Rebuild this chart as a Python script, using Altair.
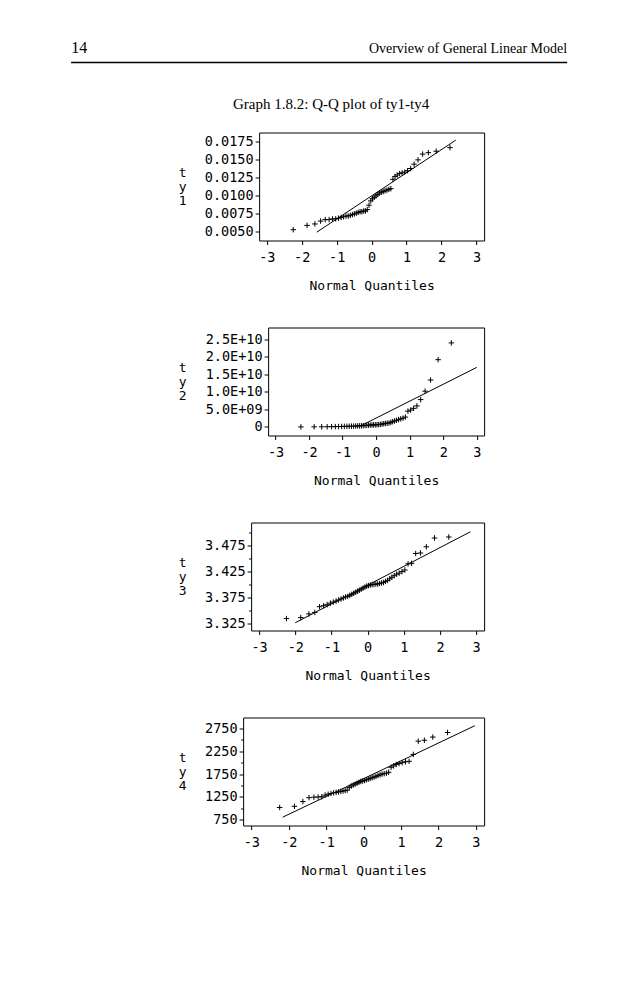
import altair as alt
import pandas as pd

# ---------------- text ----------------
page_number = "14"
running_head = "Overview of General Linear Model"
graph_title = "Graph 1.8.2: Q-Q plot of ty1-ty4"
x_title = "Normal Quantiles"
y_titles = [["t", "y", "1"], ["t", "y", "2"], ["t", "y", "3"], ["t", "y", "4"]]

# ---------------- data ----------------
normal_quantiles = [
    -2.243, -1.848, -1.623, -1.460, -1.328, -1.216, -1.118, -1.029, -0.948, -0.872,
    -0.802, -0.734, -0.670, -0.609, -0.550, -0.493, -0.438, -0.384, -0.330, -0.278,
    -0.227, -0.176, -0.125, -0.075, -0.025, 0.025, 0.075, 0.125, 0.176, 0.227,
    0.278, 0.330, 0.384, 0.438, 0.493, 0.550, 0.609, 0.670, 0.734, 0.802,
    0.872, 0.948, 1.029, 1.118, 1.216, 1.328, 1.460, 1.623, 1.848, 2.243,
]

ty1 = [
    0.0052, 0.0058, 0.0060, 0.0064, 0.0066, 0.0066, 0.0067, 0.0067, 0.0068, 0.0069,
    0.0070, 0.0071, 0.0071, 0.0072, 0.0073, 0.0074, 0.0075, 0.0076, 0.0077, 0.0077,
    0.0078, 0.0078, 0.0080, 0.0086, 0.0092, 0.0095, 0.0097, 0.0099, 0.0101, 0.0103,
    0.0104, 0.0105, 0.0106, 0.0107, 0.0108, 0.0109, 0.0122, 0.0126, 0.0128, 0.0130,
    0.0131, 0.0132, 0.0134, 0.0137, 0.0143, 0.0149, 0.0157, 0.0159, 0.0161, 0.0166,
]

ty2 = [
    0.0, 0.02e9, 0.03e9, 0.05e9, 0.06e9, 0.08e9, 0.10e9, 0.12e9, 0.14e9, 0.16e9,
    0.18e9, 0.20e9, 0.22e9, 0.25e9, 0.28e9, 0.30e9, 0.33e9, 0.36e9, 0.40e9, 0.45e9,
    0.50e9, 0.52e9, 0.55e9, 0.58e9, 0.60e9, 0.62e9, 0.65e9, 0.70e9, 0.80e9, 0.90e9,
    1.0e9, 1.05e9, 1.1e9, 1.3e9, 1.5e9, 1.7e9, 1.9e9, 2.1e9, 2.3e9, 2.5e9,
    2.8e9, 4.5e9, 4.8e9, 5.3e9, 6.0e9, 7.8e9, 10.2e9, 13.4e9, 19.2e9, 24.0e9,
]

ty3 = [
    3.334, 3.336, 3.343, 3.346, 3.357, 3.359, 3.361, 3.364, 3.366, 3.368,
    3.370, 3.372, 3.374, 3.376, 3.377, 3.379, 3.381, 3.383, 3.385, 3.387,
    3.389, 3.391, 3.393, 3.395, 3.397, 3.398, 3.399, 3.400, 3.400, 3.401,
    3.401, 3.402, 3.403, 3.404, 3.406, 3.408, 3.411, 3.414, 3.417, 3.420,
    3.422, 3.425, 3.428, 3.440, 3.441, 3.460, 3.461, 3.473, 3.490, 3.492,
]

ty4 = [
    1020, 1045, 1150, 1235, 1245, 1250, 1255, 1290, 1310, 1325,
    1340, 1350, 1360, 1370, 1380, 1390, 1400, 1460, 1490, 1510,
    1530, 1550, 1570, 1590, 1600, 1610, 1625, 1640, 1655, 1670,
    1685, 1700, 1720, 1735, 1750, 1760, 1770, 1790, 1900, 1930,
    1960, 1980, 2000, 2020, 2030, 2180, 2470, 2490, 2560, 2660,
]

# reference lines (end points)
ty1_line_q = [-1.57, 2.41]
ty1_line_v = [0.00486, 0.01764]
ty2_line_q = [-0.45, 3.0]
ty2_line_v = [0.35e9, 17.0e9]
ty3_line_q = [-2.0, 2.84]
ty3_line_v = [3.326, 3.502]
ty4_line_q = [-2.16, 2.97]
ty4_line_v = [809, 2808]

# axis ticks
x_ticks = [-3, -2, -1, 0, 1, 2, 3]
ty1_ticks = [0.005, 0.0075, 0.01, 0.0125, 0.015, 0.0175]
ty2_ticks = [0, 5e9, 1e10, 1.5e10, 2e10, 2.5e10]
ty2_tick_labels = ["0", "5.0E+09", "1.0E+10", "1.5E+10", "2.0E+10", "2.5E+10"]
ty3_major = [3.325, 3.375, 3.425, 3.475]
ty3_minor = [3.35, 3.40, 3.45, 3.50]
ty4_major = [750, 1250, 1750, 2250, 2750]
ty4_minor = [1000, 1500, 2000, 2500]

MONO = "DejaVu Sans Mono"
SERIF = "Liberation Serif"
PLUS = "M-1,0L1,0M0,-1L0,1"
H = 108
TITLE_LH = 14

# layout: page x of each frame's left edge (right edges all at 483)
FRAME_RIGHT = 483
HEAD_LEFT = 70            # page x of the running head's left end
HEAD_SHIFT = 150          # running head starts this far left of the header origin
HEAD_W = 346              # header group width (text block ends at its right edge)
TITLE_CX = 330            # page x of the graph title centre
Y_TITLE_X = 181           # page x of the stacked y titles


def js_list(vals):
    return "[" + ",".join(repr(v) for v in vals) + "]"


def panel(values, line_q, line_v, frame_left, y_domain, y_axis_kwargs, title, chart_title=None):
    width = FRAME_RIGHT - frame_left
    # vconcat centring moves a view by half the gap of its right extent,
    # so an invisible rule sets that extent to place the frame.
    extent = HEAD_W + 0.75 - 2 * (frame_left - (HEAD_LEFT + HEAD_SHIFT)) - 0.5
    pts = pd.DataFrame({"q": normal_quantiles, "v": values})
    ln = pd.DataFrame({"q": line_q, "v": line_v})
    x = alt.X(
        "q:Q",
        scale=alt.Scale(domain=[-3.22, 3.22], nice=False, zero=False),
        axis=alt.Axis(
            values=x_ticks,
            labelExpr="datum.value < 0 ? '-' + abs(datum.value) : '' + datum.value",
            title=x_title,
            titleX=width / 2,
            titleY=45,
            titleBaseline="middle",
            titleAlign="center",
            labelPadding=6,
            tickSize=4,
        ),
    )
    y = alt.Y(
        "v:Q",
        scale=alt.Scale(domain=y_domain, nice=False, zero=False),
        axis=alt.Axis(
            title=title,
            titleAngle=0,
            titleX=Y_TITLE_X - frame_left,
            titleY=H / 2 - TITLE_LH,
            titleAlign="center",
            titleBaseline="middle",
            titleLineHeight=TITLE_LH,
            labelPadding=2,
            **y_axis_kwargs,
        ),
    )
    line = alt.Chart(ln).mark_line(color="black", strokeWidth=1).encode(x=x, y=y)
    points = alt.Chart(pts).mark_point(
        shape=PLUS, size=30, filled=False, color="black", strokeWidth=1, opacity=1
    ).encode(x=x, y=y)
    spacer = alt.Chart(pd.DataFrame({"k": [0]})).mark_rule(
        color="white", strokeOpacity=0, strokeWidth=1
    ).encode(x=alt.value(width), x2=alt.value(extent), y=alt.value(0))
    props = dict(width=width, height=H)
    if chart_title is not None:
        props["title"] = alt.TitleParams(
            chart_title,
            font=SERIF,
            fontSize=15,
            fontWeight="normal",
            color="black",
            anchor="middle",
            frame="group",
            dx=TITLE_CX - (frame_left + width / 2),
            offset=20.5,
        )
    return alt.layer(line, points, spacer).properties(**props)


p1 = panel(
    ty1, ty1_line_q, ty1_line_v, 258, [0.0037, 0.0187],
    dict(values=ty1_ticks, format=".4f", tickSize=4),
    y_titles[0], chart_title=graph_title,
)
p2 = panel(
    ty2, ty2_line_q, ty2_line_v, 267, [-2.46e9, 2.84e10],
    dict(
        values=ty2_ticks,
        labelExpr=js_list(ty2_tick_labels).replace('"', "'") + "[indexof(" + js_list(ty2_ticks) + ", datum.value)]",
        tickSize=4,
    ),
    y_titles[1],
)
p3 = panel(
    ty3, ty3_line_q, ty3_line_v, 250, [3.311, 3.520],
    dict(
        values=ty3_major + ty3_minor,
        format=".3f",
        labelExpr="indexof(" + js_list(ty3_major) + ", datum.value) >= 0 ? datum.label : ''",
        tickSize={"condition": {"test": "indexof(" + js_list(ty3_major) + ", datum.value) >= 0", "value": 4}, "value": 2.5},
    ),
    y_titles[2],
)
p4 = panel(
    ty4, ty4_line_q, ty4_line_v, 242, [626, 2988],
    dict(
        values=ty4_major + ty4_minor,
        format="d",
        labelExpr="indexof(" + js_list(ty4_major) + ", datum.value) >= 0 ? datum.label : ''",
        tickSize={"condition": {"test": "indexof(" + js_list(ty4_major) + ", datum.value) >= 0", "value": 4}, "value": 2.5},
    ),
    y_titles[3],
)

# ---------------- page header ----------------
hdr = alt.Chart(pd.DataFrame({"k": [0]}))
num = hdr.mark_text(align="left", baseline="alphabetic", font=SERIF, fontSize=16, color="black").encode(
    x=alt.value(-HEAD_SHIFT), y=alt.value(16), text=alt.value(page_number)
)
head = hdr.mark_text(align="right", baseline="alphabetic", font=SERIF, fontSize=14, color="black").encode(
    x=alt.value(HEAD_W), y=alt.value(16), text=alt.value(running_head)
)
rule = hdr.mark_rule(color="black", strokeWidth=1.5).encode(
    x=alt.value(-HEAD_SHIFT), x2=alt.value(HEAD_W), y=alt.value(26)
)
header = alt.layer(num, head, rule).properties(
    width=HEAD_W, height=26, view=alt.ViewBackground(strokeOpacity=0)
)

chart = (
    alt.vconcat(header, p1, p2, p3, p4, spacing=33, center=True)
    .properties(padding={"left": 62, "top": 28.5, "right": 5, "bottom": 5}, background="white")
    .configure_view(stroke="black", strokeWidth=1)
    .configure_axis(
        domain=False,
        grid=False,
        tickColor="black",
        tickWidth=1,
        labelFont=MONO,
        labelFontSize=13.5,
        labelColor="black",
        titleFont=MONO,
        titleFontSize=13,
        titleFontWeight="normal",
        titleColor="black",
    )
)

chart.save("out.html", embed_options={"renderer": "svg", "actions": False})
